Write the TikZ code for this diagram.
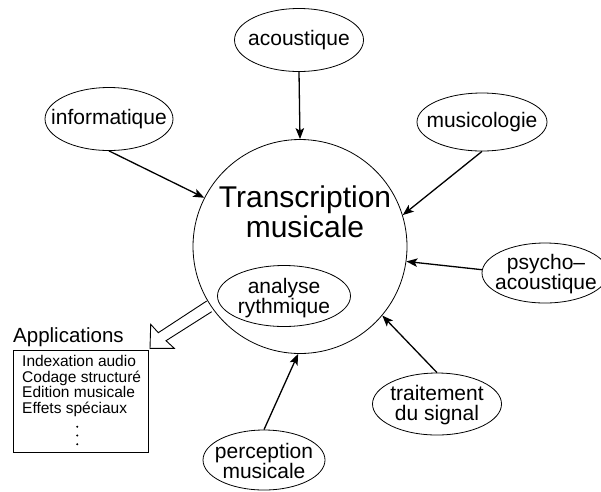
\documentclass[tikz,border=0pt]{standalone}
\usepackage{fontspec}
\setmainfont{Liberation Sans}
\usetikzlibrary{shapes.geometric,arrows.meta}
\begin{document}
\begin{tikzpicture}[x=1pt,y=-1pt,
  ell/.style={draw, ellipse, line width=0.8pt, inner sep=0pt},
  lbl/.style={inner sep=0pt, align=center, font=\fontsize{21}{20.5}\selectfont},
  arr/.style={line width=1.3pt, -{Stealth[length=11pt,width=8.5pt,inset=2.5pt]}},
  hollow/.style={line width=0.9pt, line join=miter}]
\useasboundingbox (0,0) rectangle (601,491);

% big circle
\node[circle, draw, line width=0.8pt, minimum size=214pt, inner sep=0pt] (tc) at (300,246.5) {};
\node[inner sep=0pt, align=center, font=\fontsize{30}{30}\selectfont] (ttc) at (305,212) {Transcription\\musicale};

% ellipses
\node[ell, minimum width=129pt, minimum height=63pt] (acou) at (299,40) {};
\node[lbl] (tacou) at (acou) {acoustique};
\node[ell, minimum width=128pt, minimum height=63pt] (info) at (109,119) {};
\node[lbl] (tinfo) at (info) {informatique};
\node[ell, minimum width=130pt, minimum height=58pt] (musi) at (482,122) {};
\node[lbl] (tmusi) at (musi) {musicologie};
\node[ell, minimum width=126pt, minimum height=60pt] (psy) at (545,273) {};
\node[lbl] (tpsy) at (546,274) {psycho–\\acoustique};
\node[ell, minimum width=129pt, minimum height=62pt] (trait) at (437,404) {};
\node[lbl] (ttrait) at (437,405) {traitement\\du signal};
\node[ell, minimum width=122pt, minimum height=60pt] (perc) at (264,460) {};
\node[lbl] (tperc) at (264,461) {perception\\musicale};
\node[ell, minimum width=133pt, minimum height=61pt] (ana) at (284,296) {};
\node[lbl] (tana) at (284,298) {analyse\\rythmique};

% arrows
\draw[arr] (acou.south) -- (tc.north);
\draw[arr] (info.south) -- (tc.153.4);
\draw[arr] (musi.south) -- (tc.17.9);
\draw[arr] (psy.177) -- (tc.-8.5);
\draw[arr] (trait.north) -- (tc.-40.7);
\draw[arr] (perc.north) -- (tc.-91.6);

% hollow arrow to applications
\coordinate (h1) at (206.7,301);
\coordinate (h2) at (158.3,332.7);
\coordinate (h3) at (150.7,324.3);
\coordinate (h4) at (150,348.3);
\coordinate (h5) at (174.3,348.3);
\coordinate (h6) at (166,340.7);
\coordinate (h7) at (211.7,311.7);
\draw[hollow] (h1) -- (h2) -- (h3) -- (h4) -- (h5) -- (h6) -- (h7);

% applications
\node[anchor=west, inner sep=0pt, font=\fontsize{20.5}{20.5}\selectfont] (app) at (13,337) {Applications};
\node[draw, line width=0.8pt, rectangle, minimum width=135pt, minimum height=102pt, anchor=north west, inner sep=0pt] (box) at (13,350) {};
\node[anchor=north west, inner sep=0pt, align=left, font=\fontsize{15.5}{15.5}\selectfont] (list) at (22,355.5)
  {Indexation audio\\Codage structuré\\Edition musicale\\Effets spéciaux};
\fill (77.3,426.7) circle (1.1pt);
\fill (77.3,435.5) circle (1.1pt);
\fill (77.3,444.2) circle (1.1pt);
\end{tikzpicture}
\end{document}
